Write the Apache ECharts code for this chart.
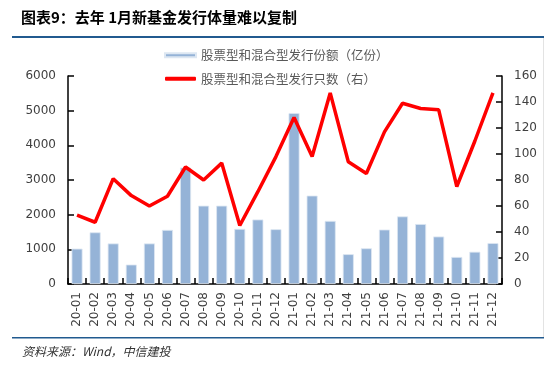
<!DOCTYPE html>
<html>
<head>
<meta charset="utf-8">
<script src="https://cdn.jsdelivr.net/npm/echarts@6/dist/echarts.min.js"></script>
<style>
  html, body { margin: 0; padding: 0; background: #fff; }
  #chart { width: 555px; height: 375px; }
</style>
</head>
<body>
<div id="chart"></div>
<script>
// 月份
var months = ["20-01", "20-02", "20-03", "20-04", "20-05", "20-06", "20-07", "20-08", "20-09", "20-10", "20-11", "20-12",
  "21-01", "21-02", "21-03", "21-04", "21-05", "21-06", "21-07", "21-08", "21-09", "21-10", "21-11", "21-12"];
// 发行份额（亿份），左轴
var shares = [1020, 1490, 1170, 560, 1170, 1560, 3360, 2260, 2260, 1590, 1860, 1580,
  4930, 2550, 1820, 860, 1030, 1570, 1950, 1730, 1370, 780, 930, 1180];
// 发行只数，右轴
var counts = [53, 47.5, 81, 68, 60, 67.5, 90, 80, 93, 45, 71, 98,
  128, 98, 147, 94, 85, 117, 139, 135, 134, 75, 110, 147];

var barName = "股票型和混合型发行份额（亿份）";
var lineName = "股票型和混合型发行只数（右）";

var myChart = echarts.init(document.getElementById("chart"));

var axisText = { color: "#404040", fontSize: 12, fontFamily: "DejaVu Sans" };
var axisLine = { show: true, lineStyle: { color: "#000", width: 1.5 } };
var tick = { show: true, inside: true, length: 6, lineStyle: { color: "#000", width: 1.5 } };

var option = {
  animation: false,
  textStyle: { fontFamily: "Noto Sans CJK SC" },
  graphic: [
    {
      type: "text", left: 21, top: 10,
      style: { text: "图表9：去年 1月新基金发行体量难以复制", fontSize: 15, fontWeight: "bold", fill: "#000", fontFamily: "Noto Sans CJK SC" }
    },
    { type: "rect", shape: { x: 12, y: 36, width: 532, height: 2 }, style: { fill: "#215A8F" } },
    { type: "rect", shape: { x: 543, y: 38, width: 1, height: 299 }, style: { fill: "#e3e3e3" } },
    { type: "rect", shape: { x: 12, y: 337, width: 532, height: 1.5 }, style: { fill: "#215A8F" } },
    {
      type: "text", left: 22, top: 345,
      style: { text: "资料来源：Wind，中信建投", fontSize: 12, fontStyle: "italic", fill: "#333", fontFamily: "Noto Sans CJK SC" }
    }
  ],
  legend: {
    orient: "vertical",
    left: 159,
    top: 44,
    itemWidth: 31,
    itemHeight: 4,
    itemGap: 11,
    textStyle: { color: "#595959", fontSize: 12.5 },
    data: [
      { name: barName, icon: "rect" },
      { name: lineName, icon: "roundRect" }
    ]
  },
  grid: { left: 68, right: 53, top: 76, bottom: 91 },
  xAxis: {
    type: "category",
    data: months,
    axisLine: axisLine,
    axisTick: tick,
    axisLabel: Object.assign({ rotate: 90, margin: 8, interval: 0 }, axisText),
    splitLine: { show: false }
  },
  yAxis: [
    {
      type: "value",
      min: 0, max: 6000, interval: 1000,
      axisLine: axisLine,
      axisTick: tick,
      axisLabel: Object.assign({ margin: 12, formatter: function (v) { return String(v); } }, axisText),
      splitLine: { show: false }
    },
    {
      type: "value",
      min: 0, max: 160, interval: 20,
      position: "right",
      axisLine: axisLine,
      axisTick: tick,
      axisLabel: Object.assign({ margin: 12 }, axisText),
      splitLine: { show: false }
    }
  ],
  series: [
    {
      name: barName,
      type: "bar",
      data: shares,
      barWidth: 11,
      itemStyle: { color: "#95B3D7", borderColor: "#dde7f2", borderWidth: 0.8 }
    },
    {
      name: lineName,
      type: "line",
      yAxisIndex: 1,
      data: counts,
      symbol: "none",
      lineStyle: { color: "#FF0000", width: 3.5 },
      itemStyle: { color: "#FF0000" }
    }
  ]
};
myChart.setOption(option);
</script>
</body>
</html>
